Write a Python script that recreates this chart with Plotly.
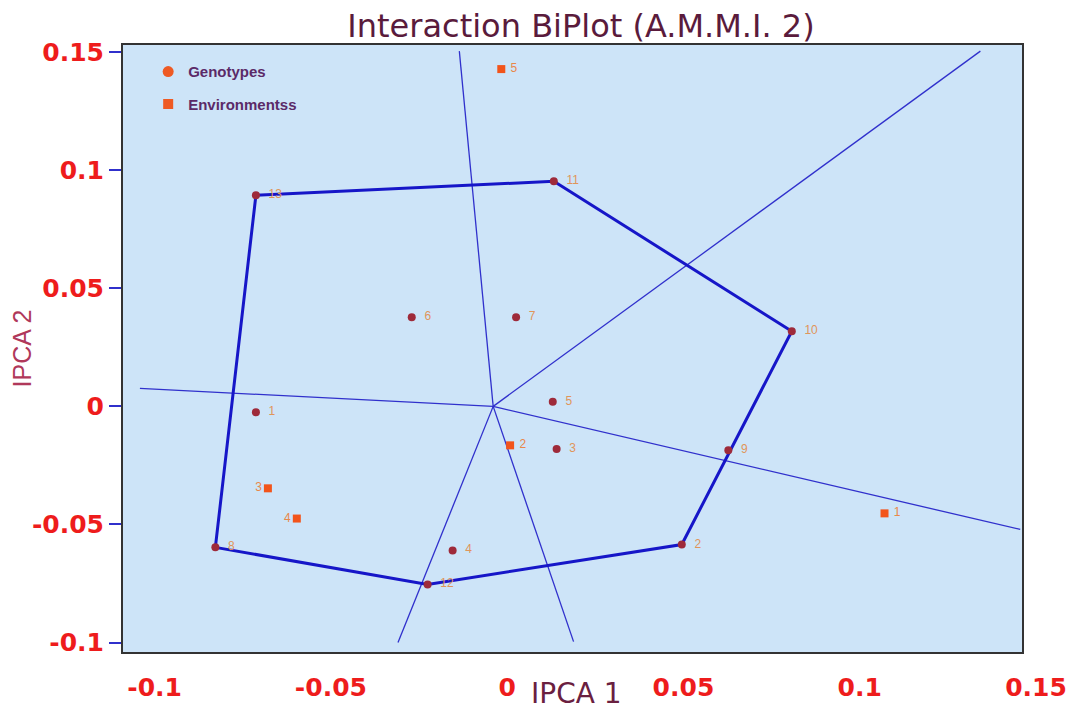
import plotly.graph_objects as go

# ---- data ----
geno_ids = ["1", "2", "3", "4", "5", "6", "7", "8", "9", "10", "11", "12", "13"]
geno_ipca1 = [-0.0673, 0.0535, 0.0180, -0.0115, 0.0169, -0.0231, 0.0065,
              -0.0788, 0.0667, 0.0847, 0.0172, -0.0186, -0.0673]
geno_ipca2 = [-0.0025, -0.0585, -0.0180, -0.0610, 0.0020, 0.0377, 0.0377,
              -0.0597, -0.0186, 0.0318, 0.0953, -0.0754, 0.0894]

env_ids = ["1", "2", "3", "4", "5"]
env_ipca1 = [0.1110, 0.0048, -0.0639, -0.0557, 0.0023]
env_ipca2 = [-0.0453, -0.0165, -0.0347, -0.0475, 0.1428]

# convex hull (polygon) vertices, by genotype id, closed
hull_order = ["13", "11", "10", "2", "12", "8", "13"]

# rays from origin (end points)
ray_end_x = [-0.0096, 0.1382, 0.1495, 0.0228, -0.0270, -0.1002]
ray_end_y = [0.1504, 0.1504, -0.0521, -0.0996, -0.1000, 0.0076]

tick_vals_x = [-0.1, -0.05, 0, 0.05, 0.1, 0.15]
tick_text_x = ["-0.1", "-0.05", "0", "0.05", "0.1", "0.15"]
tick_vals_y = [-0.1, -0.05, 0, 0.05, 0.1, 0.15]
tick_text_y = ["-0.1", "-0.05", "0", "0.05", "0.1", "0.15"]

# ---- figure ----
fig = go.Figure()

# rays
for ex, ey in zip(ray_end_x, ray_end_y):
    fig.add_trace(go.Scatter(x=[0, ex], y=[0, ey], mode="lines",
                             line=dict(color="#3030cc", width=1.3),
                             showlegend=False, hoverinfo="skip"))

# polygon
idx = {g: i for i, g in enumerate(geno_ids)}
hx = [geno_ipca1[idx[g]] for g in hull_order]
hy = [geno_ipca2[idx[g]] for g in hull_order]
fig.add_trace(go.Scatter(x=hx, y=hy, mode="lines",
                         line=dict(color="#1616c8", width=3),
                         showlegend=False, hoverinfo="skip"))

# genotypes
fig.add_trace(go.Scatter(x=geno_ipca1, y=geno_ipca2, mode="markers+text",
                         text=["  " + g for g in geno_ids], textposition="middle right",
                         textfont=dict(family="Liberation Sans", size=12, color="#e0955a"),
                         marker=dict(symbol="circle", size=8, color="#9e2a3a"),
                         name="Genotypes", showlegend=False))

# environments
env_pos = ["middle right", "middle right", "middle left", "middle left", "middle right"]
env_txt = [(" " + e) if p == "middle right" else e for e, p in zip(env_ids, env_pos)]
fig.add_trace(go.Scatter(x=env_ipca1, y=env_ipca2, mode="markers+text",
                         text=env_txt, textposition=env_pos,
                         textfont=dict(family="Liberation Sans", size=12, color="#e9874a"),
                         marker=dict(symbol="square", size=8, color="#f2541b"),
                         name="Environmentss", showlegend=False))

# legend entries
fig.add_trace(go.Scatter(x=[None], y=[None], mode="markers",
                         marker=dict(symbol="circle", size=11, color="#ee5a24"),
                         name="Genotypes", legendgroup="g"))
fig.add_trace(go.Scatter(x=[None], y=[None], mode="markers",
                         marker=dict(symbol="square", size=10, color="#ee5a24"),
                         name="Environmentss", legendgroup="e"))

fig.update_layout(
    width=1071, height=702,
    margin=dict(l=115, r=57, t=37, b=58),
    paper_bgcolor="white",
    plot_bgcolor="#cde4f8",
    title=dict(text="Interaction BiPlot (A.M.M.I. 2)", x=0.535, xanchor="center",
               y=0.991, yanchor="top",
               font=dict(family="DejaVu Sans", size=32, color="#5a1b3c")),
    legend=dict(x=0.028, y=0.983, xanchor="left", yanchor="top",
                bgcolor="rgba(0,0,0,0)", tracegroupgap=10,
                font=dict(family="Liberation Sans", size=15, color="#5b2a68",
                          weight="bold")),
    showlegend=True,
    annotations=[dict(text="IPCA 1", xref="paper", yref="paper",
                      x=0.505, y=-0.068,
                      xanchor="center", yanchor="middle", showarrow=False,
                      font=dict(family="DejaVu Sans", size=28, color="#6a2040"))],
)

fig.update_xaxes(range=[-0.105, 0.15], tickvals=tick_vals_x, ticktext=tick_text_x,
                 showgrid=False, zeroline=False, automargin=False,
                 showline=True, linecolor="#333333", linewidth=2, mirror=True,
                 ticks="", ticklabelstandoff=12, ticklabelshift=14,
                 tickfont=dict(family="DejaVu Sans", size=25, color="#ee1c1c",
                               weight="bold"))
fig.update_yaxes(range=[-0.104, 0.153], tickvals=tick_vals_y, ticktext=tick_text_y,
                 showgrid=False, zeroline=False, automargin=False,
                 showline=True, linecolor="#333333", linewidth=2, mirror=True,
                 ticks="outside", ticklen=12, tickcolor="#3030cc", tickwidth=2,
                 ticklabelstandoff=0,
                 tickfont=dict(family="DejaVu Sans", size=25, color="#ee1c1c",
                               weight="bold"),
                 title=dict(text="IPCA 2", standoff=0,
                            font=dict(family="Liberation Sans", size=25, color="#b0385a")))

fig.write_html("out.html")
